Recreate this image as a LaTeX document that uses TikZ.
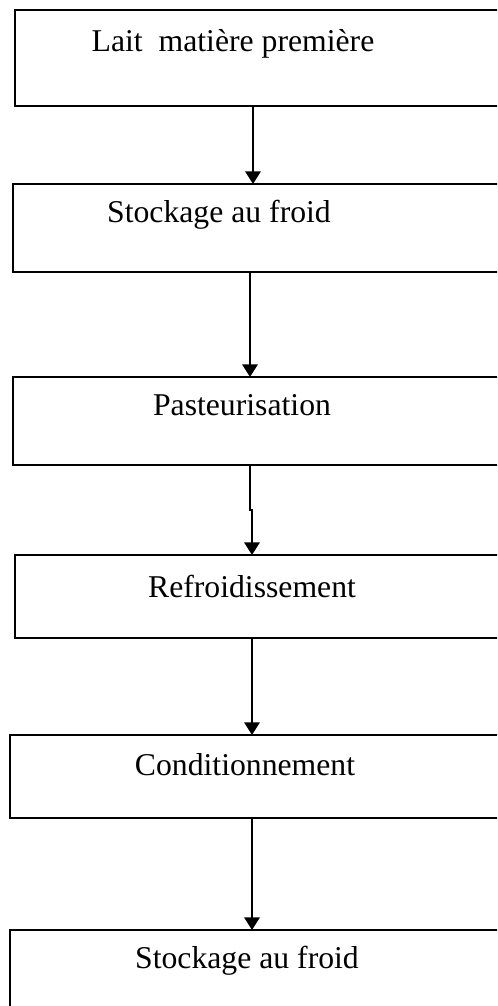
\documentclass[tikz,border=0pt]{standalone}
\usepackage{fontspec}
\setmainfont{Liberation Serif}
\usepackage{tikz}
\usetikzlibrary{arrows.meta, positioning, calc}
\newlength\px
\setlength\px{0.3785pt}

\begin{document}
\begin{tikzpicture}[x=1\px, y=-1\px,
  stepbox/.style={draw, rectangle, line width=0.95pt, inner sep=0pt, outer sep=0pt,
    anchor=north west, minimum width=495\px},
  steptext/.style={anchor=base, inner sep=0pt, font=\fontsize{12}{14}\selectfont},
  flow/.style={-{Triangle[length=4.8pt,width=5.8pt]}, line width=0.95pt}]
\clip (0,0) rectangle (497,1006);

% the boxes, cut off on the right
\node[stepbox, minimum height=96\px] (lait) at (15,10) {};
\node[stepbox, minimum height=88\px] (stock1) at (13,184) {};
\node[stepbox, minimum height=88\px] (pasteur) at (13,377) {};
\node[stepbox, minimum height=83\px] (refroid) at (15,555) {};
\node[stepbox, minimum height=83\px] (condit) at (10,735) {};
\node[stepbox, minimum height=110\px] (stock2) at (10,930) {};

% texts
\node[steptext] (tlait) at (233,52) {Lait\ \ matière première};
\node[steptext] (tstock1) at (219,223) {Stockage au froid};
\node[steptext] (tpasteur) at (242,416) {Pasteurisation};
\node[steptext] (trefroid) at (252,597) {Refroidissement};
\node[steptext] (tcondit) at (245,775) {Conditionnement};
\node[steptext] (tstock2) at (247,968) {Stockage au froid};

% arrows
\coordinate (xa) at (253,0);
\coordinate (xb) at (250,0);
\coordinate (xc) at (252,0);
\draw[flow] (xa |- lait.south) -- (xa |- stock1.north);
\draw[flow] (xb |- stock1.south) -- (xb |- pasteur.north);
\draw[flow] (xb |- pasteur.south) -- (250,510) -- (252,510) -- (xc |- refroid.north);
\draw[flow] (xc |- refroid.south) -- (xc |- condit.north);
\draw[flow] (xc |- condit.south) -- (xc |- stock2.north);
\end{tikzpicture}
\end{document}
